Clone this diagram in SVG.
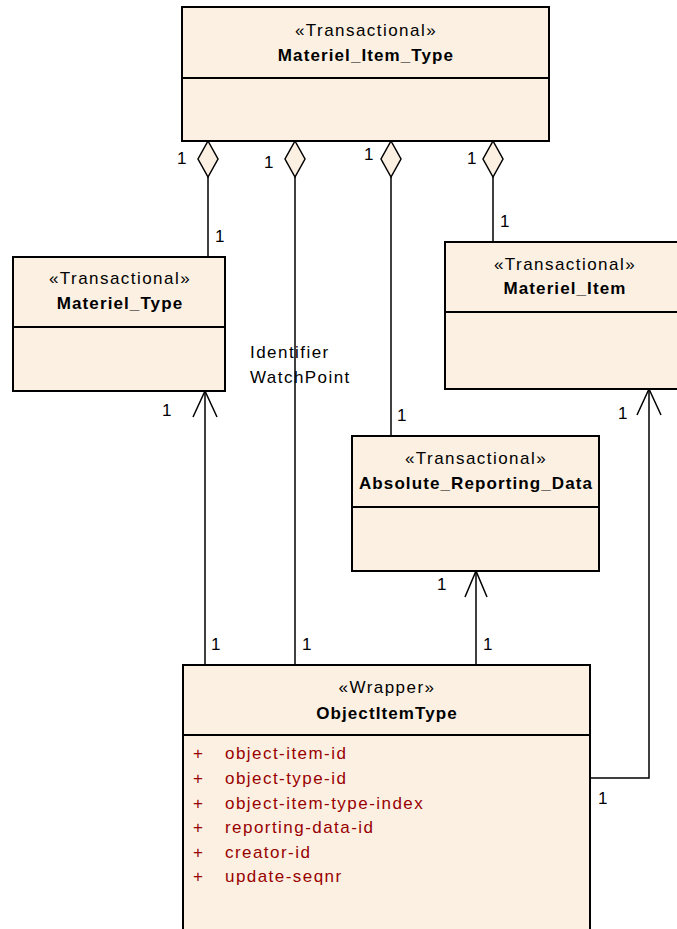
<svg xmlns="http://www.w3.org/2000/svg" width="677" height="929" viewBox="0 0 677 929">
<style>
.box{fill:#fbf0e2;stroke:#000;stroke-width:2}
.sep{stroke:#000;stroke-width:2}
.st{font-family:"Liberation Sans",Arial,sans-serif;font-size:17px;letter-spacing:1.45px;text-anchor:middle;fill:#000}
.nm{font-family:"Liberation Sans",Arial,sans-serif;font-size:17px;font-weight:bold;letter-spacing:1.1px;text-anchor:middle;fill:#000}
.lb{font-family:"Liberation Sans",Arial,sans-serif;font-size:17px;letter-spacing:1.45px;fill:#000}
.at{font-family:"Liberation Sans",Arial,sans-serif;font-size:17px;letter-spacing:1.45px;fill:#990000}
.ln{fill:none;stroke:#000;stroke-width:1.5}
.dia{fill:#fbf0e2;stroke:#000;stroke-width:1.5}
</style>
<rect width="677" height="929" fill="#fff"/>
<g id="connectors">
  <line class="ln" x1="208" y1="177" x2="208" y2="257"/>
  <polygon class="dia" points="208,141 218,159 208,177 198,159"/>
  <text class="lb" x="177" y="164">1</text>
  <text class="lb" x="215" y="242">1</text>
  <line class="ln" x1="295" y1="177" x2="295" y2="665"/>
  <polygon class="dia" points="295,141 305,159 295,177 285,159"/>
  <text class="lb" x="264" y="168">1</text>
  <text class="lb" x="250" y="358">Identifier</text>
  <text class="lb" x="250" y="383">WatchPoint</text>
  <text class="lb" x="302" y="650">1</text>
  <line class="ln" x1="391" y1="177" x2="391" y2="436"/>
  <polygon class="dia" points="391,141 401,159 391,177 381,159"/>
  <text class="lb" x="364" y="160">1</text>
  <text class="lb" x="397" y="421">1</text>
  <line class="ln" x1="493" y1="177" x2="493" y2="242"/>
  <polygon class="dia" points="493,141 503,159 493,177 483,159"/>
  <text class="lb" x="467" y="164">1</text>
  <text class="lb" x="500" y="227">1</text>
  <line class="ln" x1="205" y1="665" x2="205" y2="391"/>
  <polyline class="ln" points="193,417 205,391 217,417"/>
  <text class="lb" x="162" y="416">1</text>
  <text class="lb" x="211" y="650">1</text>
  <line class="ln" x1="476" y1="665" x2="476" y2="571"/>
  <polyline class="ln" points="465,597 476,571 487,597"/>
  <text class="lb" x="437" y="590">1</text>
  <text class="lb" x="483" y="650">1</text>
  <polyline class="ln" points="591,778 649,778 649,389"/>
  <polyline class="ln" points="637,415 649,389 661,415"/>
  <text class="lb" x="618" y="419">1</text>
  <text class="lb" x="598" y="804">1</text>
</g>
<g id="Materiel_Item_Type">
  <rect class="box" x="182" y="7" width="367" height="134"/>
  <line class="sep" x1="182" y1="78" x2="549" y2="78"/>
  <text class="st" x="366" y="36">«Transactional»</text>
  <text class="nm" x="366" y="61">Materiel_Item_Type</text>
</g>
<g id="Materiel_Type">
  <rect class="box" x="13" y="257" width="212" height="134"/>
  <line class="sep" x1="13" y1="327" x2="225" y2="327"/>
  <text class="st" x="120" y="284">«Transactional»</text>
  <text class="nm" x="120" y="309">Materiel_Type</text>
</g>
<g id="Materiel_Item">
  <rect class="box" x="445" y="242" width="238" height="147"/>
  <line class="sep" x1="445" y1="312" x2="683" y2="312"/>
  <text class="st" x="565" y="270">«Transactional»</text>
  <text class="nm" x="565" y="294">Materiel_Item</text>
</g>
<g id="Absolute_Reporting_Data">
  <rect class="box" x="352" y="436" width="247" height="135"/>
  <line class="sep" x1="352" y1="507" x2="599" y2="507"/>
  <text class="st" x="476" y="464">«Transactional»</text>
  <text class="nm" x="476" y="489">Absolute_Reporting_Data</text>
</g>
<g id="ObjectItemType">
  <rect class="box" x="183" y="665" width="407" height="280"/>
  <line class="sep" x1="183" y1="735" x2="590" y2="735"/>
  <text class="st" x="387" y="693">«Wrapper»</text>
  <text class="nm" x="387" y="719">ObjectItemType</text>
  <text class="at" x="193" y="759">+</text><text class="at" x="225" y="759">object-item-id</text>
  <text class="at" x="193" y="784">+</text><text class="at" x="225" y="784">object-type-id</text>
  <text class="at" x="193" y="809">+</text><text class="at" x="225" y="809">object-item-type-index</text>
  <text class="at" x="193" y="833">+</text><text class="at" x="225" y="833">reporting-data-id</text>
  <text class="at" x="193" y="858">+</text><text class="at" x="225" y="858">creator-id</text>
  <text class="at" x="193" y="882">+</text><text class="at" x="225" y="882">update-seqnr</text>
</g>
</svg>
